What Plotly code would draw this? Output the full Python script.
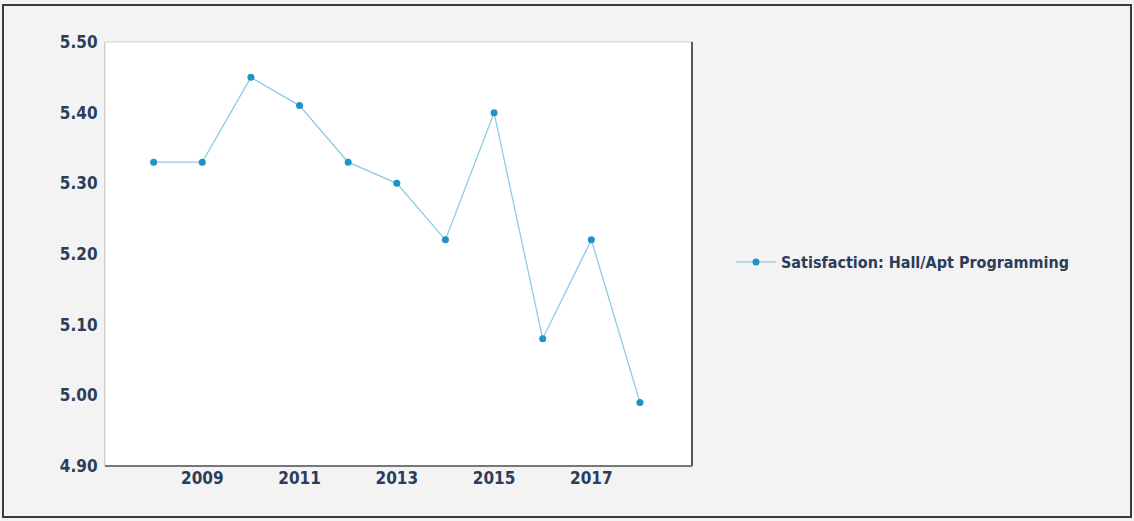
import plotly.graph_objects as go

years = [2008, 2009, 2010, 2011, 2012, 2013, 2014, 2015, 2016, 2017, 2018]
satisfaction = [5.33, 5.33, 5.45, 5.41, 5.33, 5.30, 5.22, 5.40, 5.08, 5.22, 4.99]
series_name = "Satisfaction: Hall/Apt Programming"
x_ticks = [2009, 2011, 2013, 2015, 2017]
y_ticks = [4.90, 5.00, 5.10, 5.20, 5.30, 5.40, 5.50]

W, H = 1134, 521
L, R, T, B = 105, 692, 42, 466
FONT = "DejaVu Sans Condensed, DejaVu Sans, sans-serif"
INK = "#2b3d5a"

fig = go.Figure()
fig.add_trace(go.Scatter(
    x=years, y=satisfaction, mode="lines+markers", name=series_name,
    line=dict(color="#8ccbe3", width=1.3),
    marker=dict(color="#1f93c4", size=7),
))

def px(x):
    return (x - L) / (R - L)

def py(y):
    return (B - y) / (B - T)

shapes = [
    # outer frame
    dict(type="rect", xref="paper", yref="paper", x0=px(3), x1=px(1131), y0=py(517), y1=py(5),
         line=dict(color="#3a3a3a", width=2), fillcolor="rgba(0,0,0,0)", layer="below"),
    # plot area frame
    dict(type="rect", xref="paper", yref="paper", x0=0, x1=1, y0=0, y1=1,
         line=dict(color="#d4d4d4", width=1), fillcolor="rgba(0,0,0,0)"),
    dict(type="line", xref="paper", yref="paper", x0=1, x1=1, y0=0, y1=1,
         line=dict(color="#555555", width=2)),
    dict(type="line", xref="paper", yref="paper", x0=0, x1=1, y0=0, y1=0,
         line=dict(color="#777777", width=2)),
]

fig.update_layout(
    width=W, height=H,
    margin=dict(l=L, r=W - R, t=T, b=H - B),
    paper_bgcolor="#f3f3f3",
    plot_bgcolor="#ffffff",
    shapes=shapes,
    showlegend=True,
    legend=dict(x=px(731), y=py(262), xanchor="left", yanchor="middle",
                itemwidth=40, bgcolor="rgba(0,0,0,0)",
                font=dict(family=FONT, size=16, color=INK, weight="bold")),
    xaxis=dict(range=[2007.0, 2019.07], tickvals=x_ticks, ticktext=[str(v) for v in x_ticks],
               showgrid=False, zeroline=False, showline=False, ticks="",
               tickfont=dict(family=FONT, size=17, color=INK, weight="bold")),
    yaxis=dict(range=[4.90, 5.50], tickvals=y_ticks, ticktext=[f"{v:.2f}" for v in y_ticks],
               showgrid=False, zeroline=False, showline=True, linecolor="#c8c8c8", linewidth=1,
               ticks="", ticklabelstandoff=3,
               tickfont=dict(family=FONT, size=17, color=INK, weight="bold")),
)

fig.write_html("out.html")
